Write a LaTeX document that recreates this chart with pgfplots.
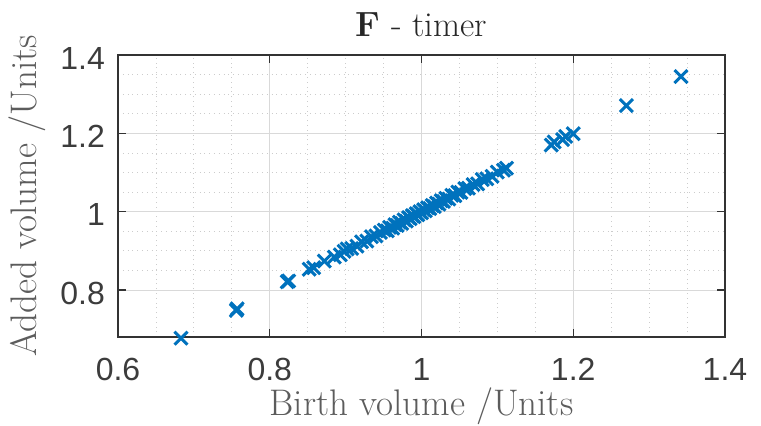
\documentclass[border=0pt]{standalone}
\usepackage{fontspec}
\usepackage{pgfplots}
\pgfplotsset{compat=1.18}
\newfontfamily\ticksf{Liberation Sans}
\definecolor{mblue}{rgb}{0,0.447,0.741}
\definecolor{mtext}{rgb}{0.15,0.15,0.15}
\begin{document}
\begin{tikzpicture}
\useasboundingbox (-59pt,-44pt) rectangle (321.5pt,168.5pt);
\begin{axis}[
  scale only axis,
  width=303.5pt, height=141pt,
  xmin=0.6, xmax=1.4, ymin=0.68, ymax=1.4,
  xtick={0.6,0.8,1,1.2,1.4},
  ytick={0.8,1,1.2,1.4},
  xticklabels={0.6,0.8,1,1.2,1.4},
  yticklabels={0.8,1,1.2,1.4},
  minor tick num=3,
  grid=both,
  major grid style={gray!30, line width=0.4pt},
  minor grid style={gray!40, dotted, line width=0.4pt},
  axis line style={black!80, line width=0.8pt},
  tick style={black!80, line width=0.7pt},
  major tick length=4pt, minor tick length=0pt,
  tick label style={font=\ticksf\fontsize{16}{18}\selectfont, text=mtext!90},
  xticklabel style={anchor=center, yshift=-16pt},
  yticklabel style={xshift=-3pt, yshift=-1.5pt},
  /pgf/number format/assume math mode=true,
  every axis title shift=0pt,
  title={\textbf{F} - timer},
  title style={font=\fontsize{17.5}{19}\selectfont, text=mtext, at={(axis description cs:0.5,1.106)}, anchor=center},
  xlabel={Birth volume /Units},
  ylabel={Added volume /Units},
  label style={font=\fontsize{18.5}{20}\selectfont, text=mtext!75},
  xlabel style={at={(axis description cs:0.5,-0.245)}, anchor=center},
  ylabel style={at={(axis description cs:-0.15,0.5)}, anchor=center},
  clip=false,
]
\addplot[only marks, mark=x, mark size=4.6pt, mblue, line width=1.5pt] table {
x y
0.683 0.677
0.757 0.752
0.756 0.748
0.823 0.821
0.825 0.823
0.852 0.853
0.858 0.857
0.872 0.874
0.885 0.884
0.893 0.890
0.898 0.899
0.902 0.905
0.908 0.906
0.915 0.912
0.921 0.923
0.928 0.925
0.934 0.936
0.940 0.938
0.946 0.947
0.951 0.953
0.955 0.951
0.958 0.960
0.962 0.958
0.965 0.967
0.968 0.965
0.971 0.973
0.974 0.970
0.977 0.979
0.980 0.976
0.983 0.985
0.985 0.982
0.988 0.990
0.990 0.987
0.993 0.995
0.995 0.992
0.998 1.000
1.000 0.997
1.003 1.005
1.005 1.002
1.008 1.010
1.011 1.008
1.014 1.016
1.017 1.013
1.020 1.022
1.023 1.019
1.026 1.028
1.029 1.026
1.032 1.034
1.036 1.032
1.040 1.042
1.044 1.041
1.048 1.050
1.052 1.049
1.057 1.059
1.062 1.060
1.068 1.069
1.074 1.071
1.080 1.082
1.086 1.084
1.093 1.090
1.100 1.101
1.108 1.106
1.112 1.111
1.171 1.170
1.175 1.178
1.186 1.184
1.190 1.192
1.200 1.199
1.270 1.271
1.342 1.345
};
\end{axis}
\end{tikzpicture}
\end{document}
